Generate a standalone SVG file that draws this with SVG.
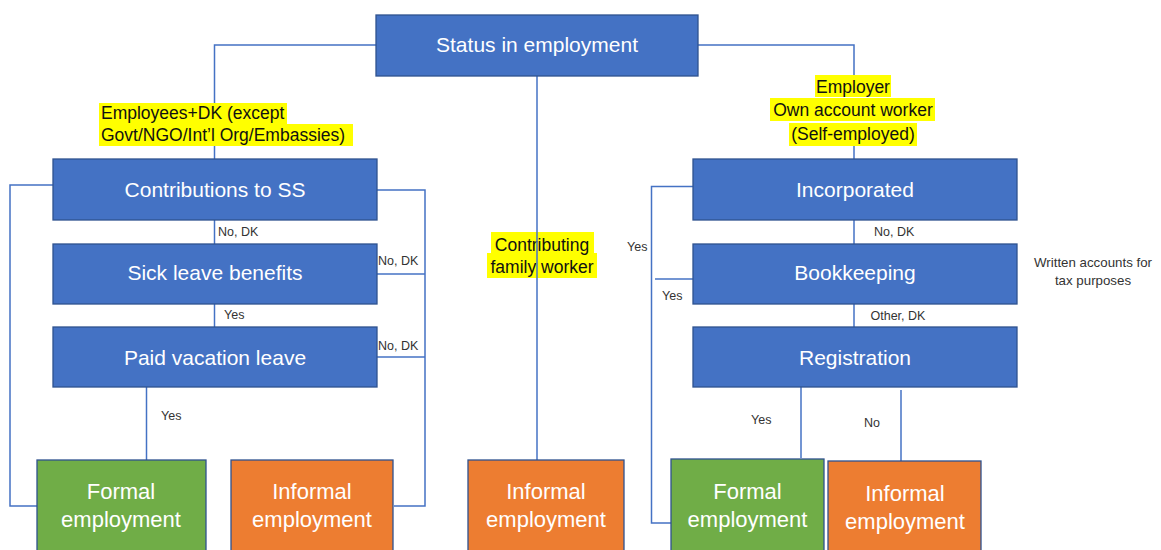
<svg xmlns="http://www.w3.org/2000/svg" width="1161" height="550" viewBox="0 0 1161 550">
<style>
.box{stroke:#2F528F;stroke-width:1.3}
.blue{fill:#4472C4}
.green{fill:#70AD47}
.orange{fill:#ED7D31}
.t{font-family:"Liberation Sans",Arial,sans-serif;fill:#fff;text-anchor:middle}
.bt{font-size:21px}
.ot{font-size:22px}
.lbl{font-family:"Liberation Sans",Arial,sans-serif;font-size:12.5px;fill:#333}
.note{font-family:"Liberation Sans",Arial,sans-serif;font-size:13.3px;fill:#333;text-anchor:middle}
.hl{fill:#FFFF00}
.ht{font-family:"Liberation Sans",Arial,sans-serif;font-size:17.5px;fill:#111}
.c{fill:none;stroke:#4472C4;stroke-width:1.5}
</style>
<rect width="1161" height="550" fill="#fff"/>

<g id="label-employees">
<rect class="hl" x="99" y="103" width="188" height="21"/>
<rect class="hl" x="99" y="124" width="254" height="22"/>
<text class="ht" x="101" y="119">Employees+DK (except</text>
<text class="ht" x="101" y="140.5">Govt/NGO/Int’l Org/Embassies)</text>
</g>
<g id="label-selfemployed">
<rect class="hl" x="815" y="75" width="76" height="22"/>
<rect class="hl" x="770" y="98" width="165" height="23"/>
<rect class="hl" x="789" y="123" width="128" height="23"/>
<text class="ht" x="853" y="92.5" text-anchor="middle">Employer</text>
<text class="ht" x="853" y="116" text-anchor="middle">Own account worker</text>
<text class="ht" x="853" y="140" text-anchor="middle">(Self-employed)</text>
</g>
<g id="label-family">
<rect class="hl" x="491" y="232" width="103" height="21"/>
<rect class="hl" x="487" y="253" width="110" height="25"/>
<text class="ht" x="542" y="250.5" text-anchor="middle">Contributing</text>
<text class="ht" x="542" y="272.5" text-anchor="middle">family worker</text>
</g>

<g id="connectors">
<polyline class="c" points="376,45 214.5,45 214.5,103"/>
<line class="c" x1="214.5" y1="146" x2="214.5" y2="159"/>
<polyline class="c" points="698,45 854,45 854,75"/>
<line class="c" x1="854" y1="146" x2="854" y2="159"/>
<line class="c" x1="537" y1="76" x2="537" y2="460"/>
<line class="c" x1="214.5" y1="220" x2="214.5" y2="244"/>
<line class="c" x1="214.5" y1="304" x2="214.5" y2="327"/>
<line class="c" x1="146.5" y1="387" x2="146.5" y2="460"/>
<polyline class="c" points="53,185 10,185 10,506 37,506"/>
<polyline class="c" points="377,190 425,190 425,506 394,506"/>
<line class="c" x1="377" y1="274" x2="425" y2="274"/>
<line class="c" x1="377" y1="357" x2="425" y2="357"/>
<line class="c" x1="854" y1="220" x2="854" y2="244"/>
<line class="c" x1="854" y1="304" x2="854" y2="327"/>
<polyline class="c" points="693,186.5 651.5,186.5 651.5,523 671,523"/>
<line class="c" x1="655" y1="279" x2="693" y2="279"/>
<line class="c" x1="801" y1="387" x2="801" y2="458"/>
<line class="c" x1="901" y1="390" x2="901" y2="461"/>
</g>

<g id="node-status">
<rect class="box blue" x="376" y="15" width="322" height="61"/>
<text class="t bt" x="537" y="52">Status in employment</text>
</g>
<g id="node-contrib">
<rect class="box blue" x="53" y="159" width="324" height="61"/>
<text class="t bt" x="215" y="197">Contributions to SS</text>
</g>
<g id="node-sick">
<rect class="box blue" x="53" y="244" width="324" height="60"/>
<text class="t bt" x="215" y="280">Sick leave benefits</text>
</g>
<g id="node-paid">
<rect class="box blue" x="53" y="327" width="324" height="60"/>
<text class="t bt" x="215" y="365">Paid vacation leave</text>
</g>
<g id="node-inc">
<rect class="box blue" x="693" y="159" width="324" height="61"/>
<text class="t bt" x="855" y="197">Incorporated</text>
</g>
<g id="node-book">
<rect class="box blue" x="693" y="244" width="324" height="60"/>
<text class="t bt" x="855" y="280">Bookkeeping</text>
</g>
<g id="node-reg">
<rect class="box blue" x="693" y="327" width="324" height="60"/>
<text class="t bt" x="855" y="365">Registration</text>
</g>

<g id="node-formal-left">
<rect class="box green" x="37" y="460" width="169" height="100"/>
<text class="t ot" x="121" y="499">Formal</text>
<text class="t ot" x="121" y="527">employment</text>
</g>
<g id="node-informal-left">
<rect class="box orange" x="231" y="460" width="162" height="100"/>
<text class="t ot" x="312" y="499">Informal</text>
<text class="t ot" x="312" y="527">employment</text>
</g>
<g id="node-informal-center">
<rect class="box orange" x="468" y="460" width="156" height="100"/>
<text class="t ot" x="546" y="499">Informal</text>
<text class="t ot" x="546" y="527">employment</text>
</g>
<g id="node-formal-right">
<rect class="box green" x="671" y="459" width="153" height="100"/>
<text class="t ot" x="747.5" y="499">Formal</text>
<text class="t ot" x="747.5" y="527">employment</text>
</g>
<g id="node-informal-right">
<rect class="box orange" x="828" y="461" width="153" height="100"/>
<text class="t ot" x="905" y="500.5">Informal</text>
<text class="t ot" x="905" y="528.5">employment</text>
</g>

<g id="edge-labels">
<text class="lbl" x="218" y="236">No, DK</text>
<text class="lbl" x="224" y="319">Yes</text>
<text class="lbl" x="378" y="265">No, DK</text>
<text class="lbl" x="378" y="350">No, DK</text>
<text class="lbl" x="161" y="420">Yes</text>
<text class="lbl" x="874" y="236">No, DK</text>
<text class="lbl" x="870.5" y="320">Other, DK</text>
<text class="lbl" x="627" y="251">Yes</text>
<text class="lbl" x="662" y="300">Yes</text>
<text class="lbl" x="751" y="424">Yes</text>
<text class="lbl" x="864" y="427">No</text>
<text class="note" x="1093" y="267">Written accounts for</text>
<text class="note" x="1093" y="285">tax purposes</text>
</g>
</svg>
